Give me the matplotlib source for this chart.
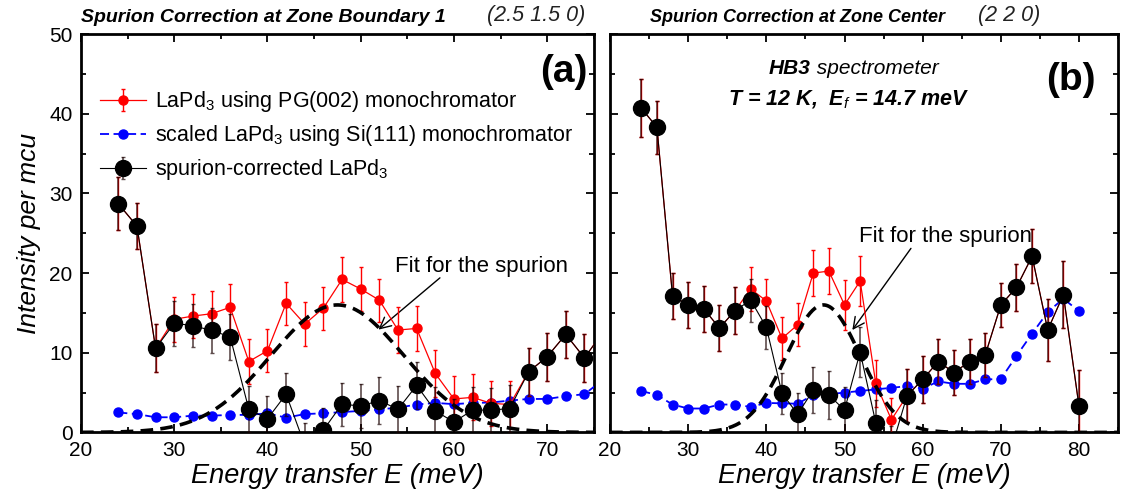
import matplotlib
matplotlib.use("Agg")
import matplotlib.pyplot as plt
import matplotlib.font_manager as fm
import numpy as np

# fonts: narrow sans if available
names = {f.name for f in fm.fontManager.ttflist}
narrow = 'Liberation Sans Narrow' if 'Liberation Sans Narrow' in names else 'Liberation Sans'
plt.rcParams['font.family'] = ['Liberation Sans', 'DejaVu Sans']
plt.rcParams['mathtext.fontset'] = 'custom'
plt.rcParams['mathtext.rm'] = 'Liberation Sans'
plt.rcParams['mathtext.it'] = 'Liberation Sans:italic'

# ---- (a) zone boundary (2.5 1.5 0) ----
E_a = [24, 26, 28, 30, 32, 34, 36, 38, 40, 42, 44, 46, 48, 50,
       52, 54, 56, 58, 60, 62, 64, 66, 68, 70, 72, 74, 76]
pg_a = [28.7, 25.9, 10.55, 14.2, 14.6, 14.9, 15.7, 8.9, 10.25, 16.2, 13.6, 15.6, 19.2, 18.0,
        16.6, 12.85, 13.05, 7.4, 4.2, 4.4, 3.65, 3.5, 7.6, 9.5, 12.3, 9.35, 12.6]
pg_a_err = [3.3, 2.9, 3.0, 2.8, 2.8, 2.8, 2.9, 2.8, 2.7, 2.7, 2.8, 2.7, 2.8, 2.7,
            2.7, 2.9, 2.8, 3.0, 2.9, 2.9, 2.8, 2.9, 3.0, 3.0, 3.0, 3.0, 3.0]
si_a = [2.5, 2.3, 1.9, 1.9, 2.1, 2.1, 2.2, 2.2, 2.4, 1.85, 2.3, 2.4, 2.55, 2.7,
        2.9, 3.1, 3.5, 3.7, 3.55, 3.7, 3.75, 4.0, 4.2, 4.2, 4.55, 4.8, 6.6]
corr_a = [28.7, 25.9, 10.55, 13.7, 13.4, 12.8, 12.0, 2.9, 1.7, 4.8, -1.6, 0.3, 3.56, 3.3,
          4.0, 2.9, 5.9, 2.7, 1.3, 2.8, 2.8, 3.0, 7.6, 9.5, 12.3, 9.35, 12.6]
corr_a_err = [3.3, 2.9, 3.0, 2.8, 2.7, 2.8, 2.9, 2.9, 2.9, 2.7, 2.8, 2.8, 2.7, 2.8,
              2.9, 2.9, 2.9, 3.0, 2.9, 2.9, 2.8, 2.9, 3.0, 3.0, 3.0, 3.0, 3.0]
fit_a = (16.0, 47.5, 7.1)   # amplitude, centre (meV), sigma (meV)

# ---- (b) zone centre (2 2 0) ----
E_b = [24, 26, 28, 30, 32, 34, 36, 38, 40, 42, 44, 46, 48, 50, 52,
       54, 56, 58, 60, 62, 64, 66, 68, 70, 72, 74, 76, 78, 80]
pg_b = [40.7, 38.3, 17.1, 16.0, 15.5, 13.1, 15.3, 18.0, 16.5, 11.8, 13.5, 20.0, 20.25, 16.0, 19.0,
        6.15, 1.6, 4.6, 6.65, 8.9, 7.5, 8.9, 9.7, 16.0, 18.2, 22.1, 12.85, 17.3, 3.3]
pg_b_err = [3.6, 3.3, 2.9, 2.9, 2.9, 2.9, 2.9, 2.7, 2.7, 2.7, 2.7, 2.9, 2.9, 3.1, 3.1,
            2.9, 2.7, 3.3, 2.9, 2.8, 2.8, 2.8, 2.8, 2.8, 3.0, 3.4, 3.9, 4.2, 4.5]
si_b = [5.2, 4.7, 3.5, 3.0, 3.0, 3.5, 3.5, 3.2, 3.7, 3.65, 3.6, 4.7, 4.8, 5.0, 5.2,
        5.4, 5.6, 5.8, 5.5, 6.4, 6.1, 6.1, 6.65, 6.7, 9.6, 12.4, 15.1, 16.8, 15.2]
corr_b = [40.7, 38.3, 17.1, 16.0, 15.5, 13.1, 15.3, 16.6, 13.2, 4.9, 2.3, 5.3, 4.7, 2.8, 10.1,
          1.2, -2.0, 4.6, 6.65, 8.9, 7.5, 8.9, 9.7, 16.0, 18.2, 22.1, 12.85, 17.3, 3.3]
corr_b_err = [3.6, 3.3, 2.9, 2.9, 2.9, 2.9, 2.9, 2.7, 2.7, 2.6, 2.6, 2.9, 3.0, 2.9, 3.1,
              2.9, 2.8, 3.3, 2.9, 2.8, 2.8, 2.8, 2.8, 2.8, 3.0, 3.4, 3.9, 4.2, 4.5]
fit_b = (16.0, 47.3, 4.7)


def gauss(x, amp, cen, sig):
    return amp * np.exp(-(x - cen) ** 2 / (2 * sig ** 2))


def draw_panel(ax, E, pg, pg_err, si, corr, corr_err, fit, xmax):
    si_line, = ax.plot(E, si, color='#0000ff', lw=1.3, dashes=(5, 2.5),
                       marker='o', ms=6.5, mec='#0000ff', zorder=3)
    pg_eb = ax.errorbar(E, pg, yerr=pg_err, color='#ff0000', lw=0.9, elinewidth=1.0,
                        capsize=1.5, marker='o', ms=6.5, mec='#ff0000', zorder=4)
    xf = np.linspace(20, xmax, 400)
    ax.plot(xf, gauss(xf, *fit), color='black', lw=2.6, dashes=(3.5, 2.0), zorder=5)
    corr_eb = ax.errorbar(E, corr, yerr=corr_err, color='black', lw=0.8,
                          ecolor=(0.1, 0.0, 0.0, 0.7), elinewidth=1.2, capsize=1.5,
                          marker='o', ms=11.5, mec='black', zorder=6)
    ax.set_xlim(20, xmax)
    ax.set_ylim(0, 50)
    ax.set_xticks(np.arange(20, xmax, 10))
    ax.set_xticks(np.arange(20, xmax + 1, 5), minor=True)
    ax.set_yticks(np.arange(0, 51, 10))
    ax.set_yticks(np.arange(0, 51, 5), minor=True)
    ax.tick_params(which='both', direction='in', top=True, right=True, width=1.3)
    ax.tick_params(which='major', length=6, labelsize=15, pad=6)
    ax.tick_params(which='minor', length=3.5)
    for lab in ax.get_xticklabels() + ax.get_yticklabels():
        lab.set_family(narrow)
    for sp in ax.spines.values():
        sp.set_linewidth(2.0)
    ax.set_xlabel('Energy transfer E (meV)', fontsize=19.5, style='italic',
                  family=narrow, labelpad=2)
    return pg_eb, si_line, corr_eb


def spurion_label(ax, text_xy, tail, head):
    ax.text(*text_xy, 'Fit for the spurion', fontsize=16, ha='center', va='center')
    ax.annotate('', xy=head, xytext=tail,
                arrowprops=dict(arrowstyle='->', color='black', lw=1.0,
                                shrinkA=0, shrinkB=0, mutation_scale=20))


def panel_title(ax, x, name, q, size, gap):
    t = ax.text(x, 1.02, name, transform=ax.transAxes, fontsize=size,
                fontweight='bold', style='italic', va='bottom')
    ax.annotate(q, xy=(1, 0), xycoords=t, xytext=(gap, 0), textcoords='offset points',
                fontsize=15.5, style='italic', va='bottom', color='#222222')


fig = plt.figure(figsize=(11.22, 4.93), dpi=100)
ax1 = fig.add_axes([0.0722, 0.1229, 0.457, 0.808])
ax2 = fig.add_axes([0.5437, 0.1229, 0.4528, 0.808])

h_pg, h_si, h_corr = draw_panel(ax1, E_a, pg_a, pg_a_err, si_a, corr_a, corr_a_err, fit_a, 75)
draw_panel(ax2, E_b, pg_b, pg_b_err, si_b, corr_b, corr_b_err, fit_b, 85)
ax2.tick_params(labelleft=False)
ax1.set_ylabel('Intensity per mcu', fontsize=19, style='italic', family=narrow, labelpad=6)

panel_title(ax1, 0.0, 'Spurion Correction at Zone Boundary 1', '(2.5 1.5 0)', 14, 30)
panel_title(ax2, 0.078, 'Spurion Correction at Zone Center', '(2 2 0)', 13, 24)

ax1.text(0.987, 0.95, '(a)', transform=ax1.transAxes, fontsize=28, fontweight='bold',
         ha='right', va='top')
ax2.text(0.955, 0.93, '(b)', transform=ax2.transAxes, fontsize=28, fontweight='bold',
         ha='right', va='top')

leg = ax1.legend([h_pg, h_si, h_corr],
                 ['LaPd$_3$ using PG(002) monochromator',
                  'scaled LaPd$_3$ using Si(111) monochromator',
                  'spurion-corrected LaPd$_3$'],
                 loc='upper left', bbox_to_anchor=(0.0, 0.91), frameon=False,
                 fontsize=15.5, handlelength=2.1, handletextpad=0.45, labelspacing=0.42,
                 numpoints=1)

# spectrometer details in panel (b)
ht = ax2.text(0.395, 0.913, 'HB3', transform=ax2.transAxes, fontsize=15,
              fontweight='bold', style='italic', ha='right', va='center')
ax2.annotate(' spectrometer', xy=(1, 0.5), xycoords=ht, fontsize=15, style='italic',
             va='center')
ax2.text(0.47, 0.835, r'T = 12 K,  E$_{\mathit{f}}$ = 14.7 meV', transform=ax2.transAxes,
         fontsize=15.5, fontweight='bold', style='italic', ha='center', va='center')

# fitted spurion labels
spurion_label(ax1, (63.0, 20.8), (58.5, 19.4), (51.9, 12.9))
spurion_label(ax2, (62.9, 24.6), (58.5, 23.1), (51.0, 12.85))

fig.savefig('out.png', dpi=100)
